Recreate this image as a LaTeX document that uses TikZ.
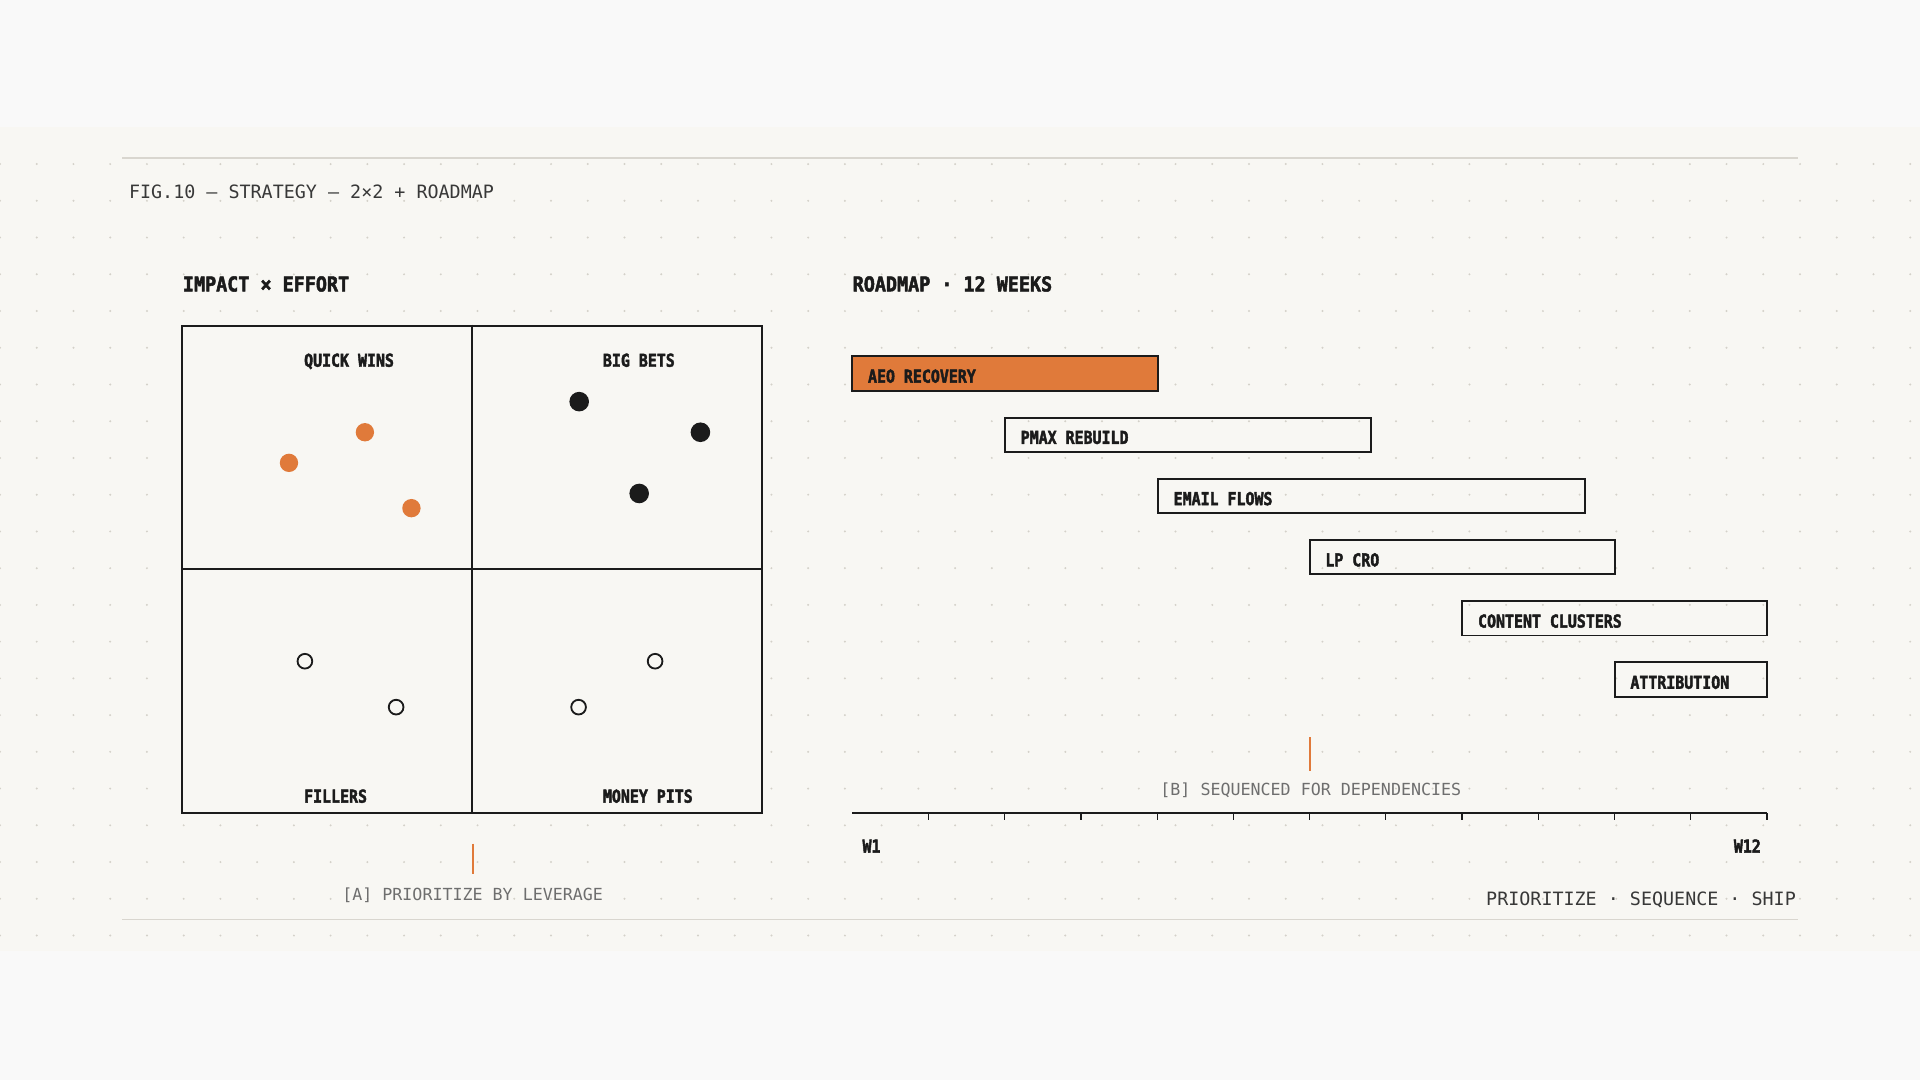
\documentclass[tikz,border=0pt]{standalone}
\usepackage{fontspec}
\usepackage{tikz}
\setmonofont{DejaVu Sans Mono}
\newfontfamily\headfont{DejaVu Sans Mono}[FakeStretch=0.9,FakeBold=2.4]
\newfontfamily\tagfont{DejaVu Sans Mono}[FakeStretch=0.84,FakeBold=2.4]
\definecolor{ink}{HTML}{1B1B1B}
\definecolor{inkgray}{HTML}{383838}
\definecolor{capgray}{HTML}{6E6E6E}
\definecolor{accent}{HTML}{E07A3A}
\definecolor{outerbg}{HTML}{F9F9F9}
\definecolor{bandbg}{HTML}{F8F7F3}
\definecolor{rulegray}{HTML}{D9D6CF}
\definecolor{dotgray}{HTML}{D4D1C9}

\begin{document}
\begin{tikzpicture}[x=0.5pt,y=-0.5pt,
		txt/.style={inner sep=0pt, text=inkgray, font=\ttfamily\fontsize{7.5}{9}\selectfont},
		note/.style={inner sep=0pt, text=capgray, font=\ttfamily\fontsize{6.8}{8}\selectfont},
		headtxt/.style={inner sep=0pt, text=ink, font=\headfont\bfseries\fontsize{8.35}{10}\selectfont},
		tagtxt/.style={inner sep=0pt, text=ink, font=\tagfont\bfseries\fontsize{7.25}{9}\selectfont},
		boxline/.style={draw=ink, line width=0.8pt},
		barhot/.style={draw=ink, line width=0.8pt, fill=accent},
		barcold/.style={draw=ink, line width=0.8pt},
		lead/.style={draw=accent, line width=0.75pt},
		hairline/.style={draw=rulegray, line width=0.45pt}]
		%%%%% START %%%%%
		
		\useasboundingbox (0,0) rectangle (1568,882);
		\fill[outerbg] (0,0) rectangle (1568,882);
		\fill[bandbg] (0,104) rectangle (1568,777);
		\foreach \i in {0,...,52}
			\foreach \j in {1,...,22}
				\fill[dotgray] (30*\i,104+30*\j) circle (0.45pt);
		
		\draw[hairline] (100,129) -- (1468,129);
		\draw[hairline] (100,751) -- (1468,751);
		
		\node[txt, anchor=base west] (fig) at (105,162.5) {FIG.10 — STRATEGY — 2×2 + ROADMAP};
		
		%%%%% MATRIX %%%%%
		
		\node[headtxt, anchor=base west] (mtxhead) at (149,238) {IMPACT × EFFORT};
		\node[boxline, fill=bandbg, inner sep=0pt, minimum width=236.5pt, minimum height=199pt] (mtx) at (385.5,465) {};
		\draw[boxline] (mtx.north) -- (mtx.south);
		\draw[boxline] (mtx.west) -- (mtx.east);
		
		\node[tagtxt, anchor=base west] (qwins) at (248,299.5) {QUICK WINS};
		\node[tagtxt, anchor=base west] (qbets) at (492,299.5) {BIG BETS};
		\node[tagtxt, anchor=base west] (qfill) at (248,655.5) {FILLERS};
		\node[tagtxt, anchor=base west] (qpits) at (492,655.5) {MONEY PITS};
		
		\foreach \x/\y in {298/353, 236/378, 336/415}
			\fill[accent] (\x,\y) circle (3.75pt);
		\foreach \x/\y in {473/328, 572/353, 522/403}
			\fill[ink] (\x,\y) circle (4pt);
		\foreach \x/\y in {249/540, 323.5/577.5, 535/540, 472.5/577.5}
			\draw[ink, line width=0.75pt] (\x,\y) circle (3pt);
		
		\coordinate (leadA) at (386,689);
		\draw[lead] (leadA) -- ++(0,24.8);
		\node[note, anchor=base] (capA) at (386,735) {[A] PRIORITIZE BY LEVERAGE};
		
		%%%%% ROADMAP %%%%%
		
		\node[headtxt, anchor=base west] (roadhead) at (696,238) {ROADMAP · 12 WEEKS};
		
		\foreach \nm/\lo/\hi/\top/\txt/\sty in {
				aeo/696/945.6/291/AEO RECOVERY/barhot,
				pmax/820.7/1119.7/341/PMAX REBUILD/barcold,
				email/945.6/1294.4/391/EMAIL FLOWS/barcold,
				lpcro/1069.5/1318.6/441/LP CRO/barcold,
				content/1194.2/1443/491/CONTENT CLUSTERS/barcold,
				attrib/1318.6/1443/541/ATTRIBUTION/barcold}
		{
			\draw[\sty] (\lo,\top) rectangle (\hi,\top+28);
			\node[tagtxt, anchor=base west] (\nm) at (\lo+12.5,\top+21.5) {\txt};
		}
		
		\coordinate (wk0) at (696,664);
		\coordinate (wk12) at (1443,664);
		\draw[ink, line width=0.8pt] (wk0) -- (wk12);
		\foreach \k in {1,...,12}
			\draw[ink, line width=0.5pt] (696+62.25*\k,664) -- ++(0,6);
		\node[tagtxt, anchor=base west] (wone) at (704,696.3) {W1};
		\node[tagtxt, anchor=base east] (wtwelve) at (1438.4,696.3) {W12};
		
		\coordinate (leadB) at (1069.5,602);
		\draw[lead] (leadB) -- ++(0,27.6);
		\node[note, anchor=base] (capB) at (1070.5,649.3) {[B] SEQUENCED FOR DEPENDENCIES};
		
		\node[txt, anchor=base east] (motto) at (1467,739.7) {PRIORITIZE · SEQUENCE · SHIP};
		
		%%%%% END %%%%%
	\end{tikzpicture}
\end{document}
